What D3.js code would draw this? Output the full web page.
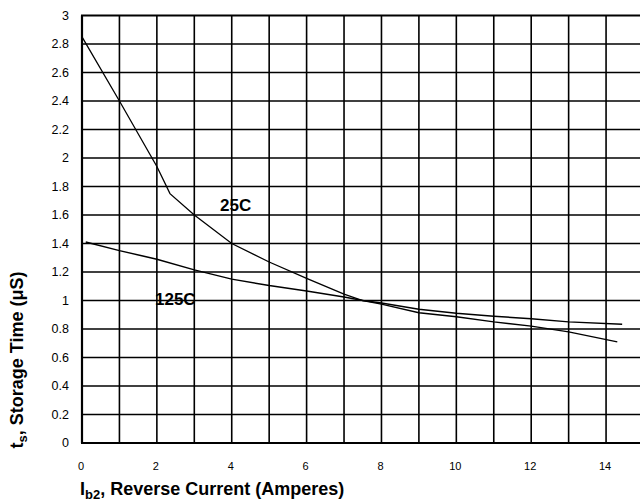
<!DOCTYPE html>
<html>
<head>
<meta charset="utf-8">
<title>Storage Time vs Reverse Current</title>
<script src="https://d3js.org/d3.v7.min.js"></script>
<style>
  body { margin: 0; background: #fff; }
  svg { display: block; font-family: "Liberation Sans", Arial, sans-serif; }
  .tick-label { font-size: 11px; fill: #000; }
  .y-label { font-size: 12.5px; }
  .axis-title { font-size: 18px; font-weight: bold; fill: #000; }
  .curve-label { font-size: 17px; font-weight: bold; fill: #000; }
</style>
</head>
<body>
<div id="chart"></div>
<script>
// tick values
const xTicks = [0, 2, 4, 6, 8, 10, 12, 14];
const xGrid = [0, 1, 2, 3, 4, 5, 6, 7, 8, 9, 10, 11, 12, 13, 14];
const yTicks = [0, 0.2, 0.4, 0.6, 0.8, 1, 1.2, 1.4, 1.6, 1.8, 2, 2.2, 2.4, 2.6, 2.8, 3];

// curves: [Ib2 (A), ts (uS)]
const curve25C = [[0, 2.85], [1, 2.4], [2, 1.94], [2.35, 1.75], [3, 1.6], [4, 1.4],
  [5, 1.27], [6, 1.155], [7, 1.045], [7.5, 1.0], [8, 0.975], [9, 0.914], [10, 0.886],
  [11, 0.85], [12, 0.82], [13, 0.78], [14.3, 0.71]];
const curve125C = [[0.1, 1.41], [1, 1.35], [2, 1.29], [3, 1.215], [4, 1.15], [5, 1.105],
  [6, 1.066], [7, 1.024], [7.5, 1.0], [8, 0.982], [9, 0.938], [10, 0.91], [11, 0.89],
  [12, 0.872], [13, 0.85], [14.43, 0.833]];

const width = 640, height = 503;
const svg = d3.select("#chart").append("svg")
    .attr("width", width)
    .attr("height", height);

const x = d3.scaleLinear().domain([0, 15]).range([82, 643.5]);
const y = d3.scaleLinear().domain([0, 3]).range([443, 15.5]);

// grid
svg.append("g").selectAll("line")
    .data(xGrid)
    .join("line")
    .attr("x1", d => x(d)).attr("x2", d => x(d))
    .attr("y1", y(3)).attr("y2", y(0))
    .attr("stroke", "#000")
    .attr("stroke-width", d => d === 0 ? 2.2 : 1.6);

svg.append("g").selectAll("line")
    .data(yTicks)
    .join("line")
    .attr("x1", x(0) - 1).attr("x2", width)
    .attr("y1", d => y(d)).attr("y2", d => y(d))
    .attr("stroke", "#000")
    .attr("stroke-width", d => (d === 0 || d === 3) ? 2 : 1.6);

// tick labels
svg.append("g").selectAll("text")
    .data(xTicks)
    .join("text")
    .attr("class", "tick-label")
    .attr("x", d => x(d) - 1)
    .attr("y", 470)
    .attr("text-anchor", "middle")
    .text(d => d);

svg.append("g").selectAll("text")
    .data(yTicks)
    .join("text")
    .attr("class", "tick-label y-label")
    .attr("x", 69)
    .attr("y", d => y(d) + 4)
    .attr("text-anchor", "end")
    .text(d => d3.format("~g")(d));

// curves
const line = d3.line().x(d => x(d[0])).y(d => y(d[1]));

svg.append("path")
    .datum(curve25C)
    .attr("d", line)
    .attr("fill", "none")
    .attr("stroke", "#000")
    .attr("stroke-width", 1.3);

svg.append("path")
    .datum(curve125C)
    .attr("d", line)
    .attr("fill", "none")
    .attr("stroke", "#000")
    .attr("stroke-width", 1.5);

svg.append("text")
    .attr("class", "curve-label")
    .attr("x", 220).attr("y", 211)
    .text("25C");

svg.append("text")
    .attr("class", "curve-label")
    .attr("x", 155).attr("y", 305)
    .text("125C");

// axis titles
const xt = svg.append("text")
    .attr("class", "axis-title")
    .attr("x", 80).attr("y", 495);
xt.append("tspan").text("I");
xt.append("tspan").attr("font-size", "13px").attr("dy", 4).text("b2");
xt.append("tspan").attr("dy", -4).text(", Reverse Current (Amperes)");

const yt = svg.append("text")
    .attr("class", "axis-title")
    .attr("transform", "translate(23,360) rotate(-90)")
    .attr("text-anchor", "middle");
yt.append("tspan").text("t");
yt.append("tspan").attr("font-size", "13px").attr("dy", 4).text("s");
yt.append("tspan").attr("dy", -4).text(", Storage Time (\u03bcS)");
</script>
</body>
</html>
